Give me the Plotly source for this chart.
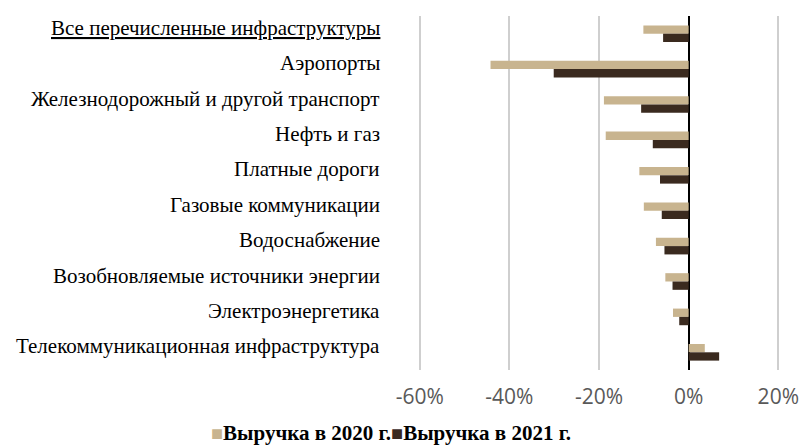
import plotly.graph_objects as go

categories = [
    "Все перечисленные инфраструктуры",
    "Аэропорты",
    "Железнодорожный и другой транспорт",
    "Нефть и газ",
    "Платные дороги",
    "Газовые коммуникации",
    "Водоснабжение",
    "Возобновляемые источники энергии",
    "Электроэнергетика",
    "Телекоммуникационная инфраструктура",
]
rev_2020 = [-10.1, -44.2, -18.9, -18.5, -11.0, -10.0, -7.3, -5.2, -3.5, 3.6]
rev_2021 = [-5.7, -30.1, -10.6, -8.0, -6.4, -6.0, -5.4, -3.6, -2.1, 6.8]
series_names = ["Выручка в 2020 г.", "Выручка в 2021 г."]
series_colors = ["#C8B48F", "#3A2A1F"]
tick_vals = [-60, -40, -20, 0, 20]
tick_text = ["-60%", "-40%", "-20%", "0%", "20%"]

fig = go.Figure()
for name, vals, col in zip(series_names, [rev_2020, rev_2021], series_colors):
    fig.add_trace(go.Bar(y=categories, x=vals, orientation="h", name=name,
                         marker=dict(color=col, line=dict(width=0))))

# category labels (slightly above bar centres, as in the original)
annotations = []
for i, cat in enumerate(categories):
    txt = f"<u>{cat}</u>" if i == 0 else cat
    annotations.append(dict(x=0, xref="paper", y=cat, yref="y", text=txt,
                            xanchor="right", yanchor="middle", xshift=-35, yshift=6,
                            showarrow=False,
                            font=dict(family="Liberation Serif", size=21, color="#000000")))

# legend line
legend_txt = (f"<span style='color:{series_colors[0]};font-size:20px'>■</span>"
              f"<b>{series_names[0]}</b>"
              f"<span style='color:{series_colors[1]};font-size:20px'>■</span>"
              f"<b>{series_names[1]}</b>")
annotations.append(dict(x=-0.0714, xref="paper", y=-0.178, yref="paper", text=legend_txt,
                        xanchor="center", yanchor="middle", showarrow=False,
                        font=dict(family="Liberation Serif", size=21, color="#000000")))

fig.update_layout(
    width=802, height=445,
    margin=dict(l=417, r=21, t=16, b=75, autoexpand=False),
    paper_bgcolor="white", plot_bgcolor="white",
    barmode="group", bargap=0.53, bargroupgap=0,
    font=dict(family="Liberation Serif", size=21, color="#000000"),
    showlegend=False,
    annotations=annotations,
)
fig.update_xaxes(range=[-60.6, 20.6], tickvals=tick_vals, ticktext=tick_text,
                 showgrid=True, gridcolor="#CFCFCF", gridwidth=2,
                 zeroline=True, zerolinecolor="#000000", zerolinewidth=2,
                 ticks="outside", ticklen=8, tickcolor="rgba(0,0,0,0)",
                 tickfont=dict(family="Open Sans", size=21, color="#595959"),
                 showline=False, automargin=False, fixedrange=True)
fig.update_yaxes(autorange=False, range=[9.5, -0.5], showgrid=False, showline=False,
                 showticklabels=False, ticks="", automargin=False, fixedrange=True)

fig.write_html("out.html", config={"displayModeBar": False},
               post_script="document.body.style.margin='0';document.body.style.padding='0';")
